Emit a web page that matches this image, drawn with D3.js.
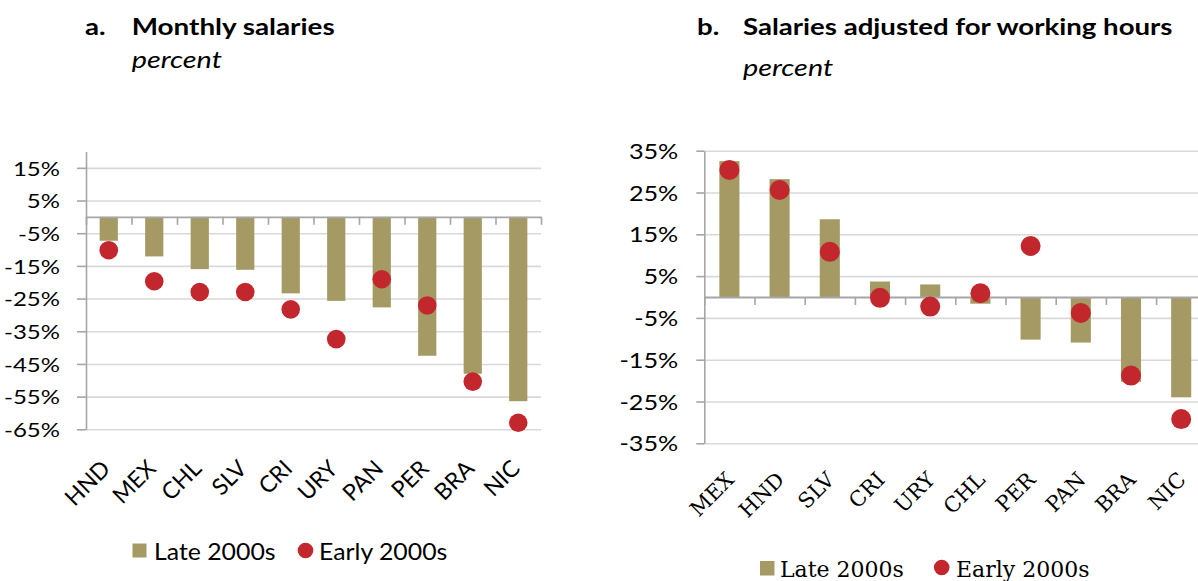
<!DOCTYPE html>
<html>
<head>
<meta charset="utf-8">
<script src="https://cdn.jsdelivr.net/npm/d3@7"></script>
<style>
  body { margin: 0; background: #fff; }
  svg { display: block; }
  .sans { font-family: Lato, "Open Sans", sans-serif; fill: #000; }
  .serif { font-family: "DejaVu Serif", serif; fill: #000; }
</style>
</head>
<body>
<div id="chart"></div>
<script>
// panel a: monthly salaries
const countriesA = ["HND", "MEX", "CHL", "SLV", "CRI", "URY", "PAN", "PER", "BRA", "NIC"];
const lateA  = [-7.3, -12.1, -16.0, -16.2, -23.4, -25.7, -27.7, -42.5, -48.0, -56.4];
const earlyA = [-10.2, -19.7, -23.0, -23.0, -28.3, -37.4, -19.1, -27.1, -50.4, -63.0];
const ticksA = [15, 5, -5, -15, -25, -35, -45, -55, -65];

// panel b: salaries adjusted for working hours
const countriesB = ["MEX", "HND", "SLV", "CRI", "URY", "CHL", "PER", "PAN", "BRA", "NIC"];
const lateB  = [32.5, 28.2, 18.6, 3.7, 3.0, -1.6, -10.2, -10.9, -20.3, -24.0];
const earlyB = [30.4, 25.6, 10.8, -0.2, -2.3, 0.9, 12.2, -3.8, -18.8, -29.2];
const ticksB = [35, 25, 15, 5, -5, -15, -25, -35];

const seriesNames = ["Late 2000s", "Early 2000s"];

const W = 1198, H = 581;
const barColor = "#a59a64", dotColor = "#c2272d";
const gridColor = "#d9d9d9", axisColor = "#a6a6a6";
const K = 1.2; // horizontal stretch of the sans labels

const svg = d3.select("#chart").append("svg")
  .attr("width", W).attr("height", H)
  .attr("viewBox", [0, 0, W, H]);

function stretch(sel, k) {
  sel.each(function () {
    const t = d3.select(this);
    const x = +t.attr("x") || 0, y = +t.attr("y") || 0;
    t.attr("x", 0).attr("y", 0)
      .attr("transform", `translate(${x},${y}) scale(${k},1)`);
  });
}

function panel(opt) {
  const {countries, late, early, ticks, domain, x0, x1, yTop, yBot, r} = opt;
  const g = svg.append("g");

  const x = d3.scaleBand().domain(countries).range([x0, x1])
    .paddingInner(0.6).paddingOuter(0.3);
  const y = d3.scaleLinear().domain(domain).range([yBot, yTop]);
  const edges = d3.scaleLinear().domain([0, countries.length]).range([x0, x1]);

  // gridlines
  g.append("g")
    .attr("transform", `translate(${x0},0)`)
    .call(d3.axisLeft(y).tickValues(ticks).tickSize(-(x1 - x0)).tickFormat(""))
    .call(a => a.select(".domain").remove())
    .call(a => a.selectAll("line").attr("stroke", gridColor).attr("stroke-width", 1.6));

  // bars
  g.append("g").selectAll("rect")
    .data(countries.map((c, i) => ({c, v: late[i]})))
    .join("rect")
      .attr("x", d => x(d.c))
      .attr("width", x.bandwidth())
      .attr("y", d => y(Math.max(0, d.v)))
      .attr("height", d => Math.abs(y(d.v) - y(0)))
      .attr("fill", barColor);

  // y axis
  const ya = g.append("g")
    .attr("transform", `translate(${x0},0)`)
    .call(d3.axisLeft(y).tickValues(ticks).tickSize(opt.tickLen).tickSizeOuter(0)
      .tickPadding(opt.pad).tickFormat(d => d + "%"));
  ya.select(".domain").attr("stroke", axisColor).attr("stroke-width", 1.6);
  ya.selectAll(".tick line").attr("stroke", axisColor).attr("stroke-width", 1.6);
  ya.selectAll(".tick text")
    .attr("class", "sans")
    .style("font-size", opt.yFont + "px")
    .attr("dy", "0.36em");
  stretch(ya.selectAll(".tick text"), K);

  // zero line with category ticks
  const xa = g.append("g")
    .attr("transform", `translate(0,${y(0)})`)
    .call(d3.axisBottom(edges).tickValues(d3.range(countries.length + 1))
      .tickSize(8).tickSizeOuter(0).tickFormat(""));
  xa.select(".domain").attr("stroke", axisColor).attr("stroke-width", 1.8);
  xa.selectAll(".tick line").attr("stroke", axisColor).attr("stroke-width", 1.6);

  // dots
  g.append("g").selectAll("circle")
    .data(countries.map((c, i) => ({c, v: early[i]})))
    .join("circle")
      .attr("cx", d => x(d.c) + x.bandwidth() / 2)
      .attr("cy", d => y(d.v))
      .attr("r", r)
      .attr("fill", dotColor);

  // rotated category labels
  g.append("g").selectAll("text")
    .data(countries)
    .join("text")
      .attr("class", opt.xClass)
      .style("font-size", opt.xFont + "px")
      .attr("text-anchor", "end")
      .attr("transform", d => `translate(${x(d) + x.bandwidth() / 2 + opt.labelDx},${opt.labelY}) rotate(-45)`)
      .text(d => d);

  // legend
  const lg = g.append("g");
  const L = opt.legend;
  lg.append("rect").attr("x", L.sx).attr("y", L.sy).attr("width", L.s).attr("height", L.s).attr("fill", barColor);
  lg.append("circle").attr("cx", L.cx).attr("cy", L.cy).attr("r", 7.8).attr("fill", dotColor);
  const lt = lg.selectAll("text")
    .data(seriesNames)
    .join("text")
      .attr("class", opt.legendClass)
      .style("font-size", L.font + "px")
      .attr("x", (d, i) => i === 0 ? L.t1 : L.t2)
      .attr("y", L.base)
      .text(d => d);
  if (L.k) stretch(lt, L.k);
}

panel({
  countries: countriesA, late: lateA, early: earlyA, ticks: ticksA,
  domain: [-65, 20], x0: 86, x1: 541, yTop: 151.5, yBot: 429.3, r: 9.3,
  tickLen: 9, pad: 17, yFont: 20, xFont: 23, xClass: "sans", labelY: 470, labelDx: 3,
  legendClass: "sans",
  legend: {sx: 132.5, sy: 543.5, s: 14, cx: 305.5, cy: 550.5, t1: 154, t2: 319, base: 560, font: 23, k: 1.08}
});

panel({
  countries: countriesB, late: lateB, early: earlyB, ticks: ticksB,
  domain: [-35, 35], x0: 704.3, x1: 1206.3, yTop: 150.7, yBot: 443.3, r: 10,
  tickLen: 8, pad: 18, yFont: 21, xFont: 21, xClass: "serif", labelY: 481, labelDx: 6,
  legendClass: "serif",
  legend: {sx: 760, sy: 561, s: 14.5, cx: 941.7, cy: 567.5, t1: 780, t2: 956, base: 577, font: 22}
});

// titles
const titles = [
  {x: 85, y: 35, text: "a.", weight: "bold", size: 23},
  {x: 131.7, y: 35, text: "Monthly salaries", weight: "bold", size: 23.2},
  {x: 131.7, y: 68, text: "percent", style: "italic", size: 24},
  {x: 697, y: 35, text: "b.", weight: "bold", size: 23},
  {x: 743, y: 35, text: "Salaries adjusted for working hours", weight: "bold", size: 23},
  {x: 743, y: 75.5, text: "percent", style: "italic", size: 24}
];
const tt = svg.append("g").selectAll("text")
  .data(titles)
  .join("text")
    .attr("class", "sans")
    .style("font-size", d => d.size + "px")
    .style("font-weight", d => d.weight || "normal")
    .style("font-style", d => d.style || "normal")
    .attr("x", d => d.x)
    .attr("y", d => d.y)
    .text(d => d.text);
stretch(tt, K);
</script>
</body>
</html>
